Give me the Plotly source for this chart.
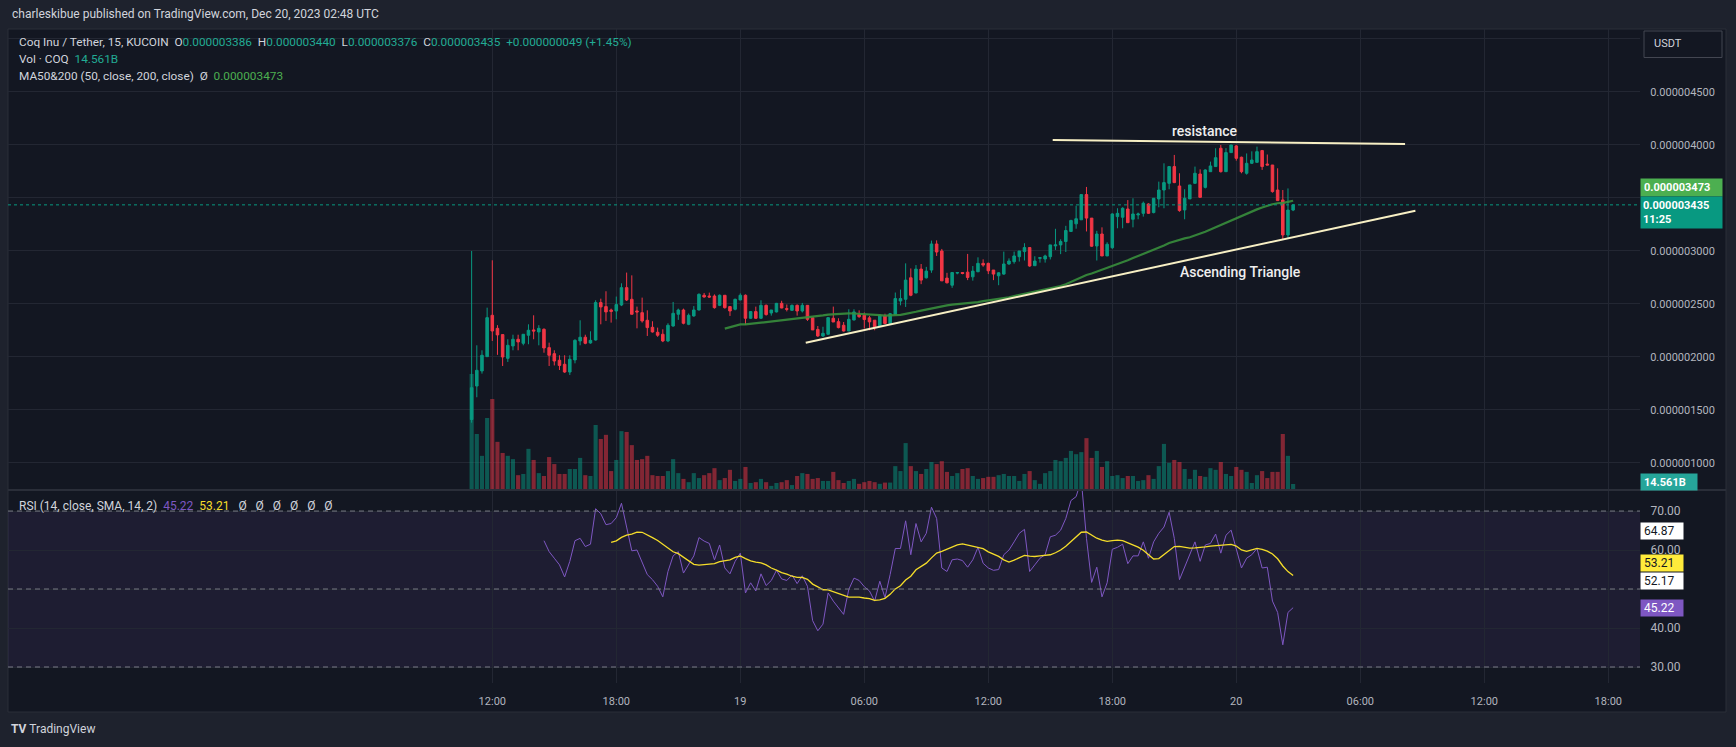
import pandas as pd
import plotly.graph_objects as go

# ---------------- data (prices in units of 1e-6 USDT) ----------------
start_time = "2023-12-18 11:00"
open_u = [1.41,1.726,1.868,2.003,2.393,2.27,2.211,1.987,2.104,2.167,
          2.129,2.205,2.255,2.236,2.261,2.088,2.031,1.969,1.931,1.858,
          1.972,2.151,2.186,2.132,2.16,2.513,2.475,2.443,2.434,2.49,
          2.654,2.544,2.434,2.418,2.346,2.28,2.233,2.214,2.151,2.292,
          2.403,2.443,2.308,2.387,2.443,2.582,2.575,2.575,2.487,2.582,
          2.475,2.45,2.538,2.582,2.365,2.428,2.365,2.487,2.415,2.425,
          2.506,2.456,2.44,2.487,2.434,2.487,2.37,2.26,2.198,2.214,
          2.365,2.333,2.299,2.245,2.349,2.40,2.394,2.369,2.347,2.293,
          2.386,2.316,2.402,2.528,2.544,2.747,2.604,2.829,2.747,2.82,
          3.066,3.0,2.744,2.677,2.791,2.797,2.80,2.756,2.804,2.883,
          2.883,2.82,2.766,2.782,2.877,2.899,2.946,2.994,3.032,2.861,
          2.93,2.924,2.946,3.048,3.057,3.089,3.184,3.256,3.294,3.532,
          3.31,3.047,3.16,2.953,3.031,3.324,3.318,3.396,3.299,3.340,
          3.355,3.443,3.362,3.491,3.575,3.638,3.796,3.613,3.387,3.491,
          3.638,3.726,3.6,3.748,3.796,3.969,3.748,3.928,3.991,3.884,
          3.733,3.827,3.836,3.947,3.82,3.811,3.575,3.481,3.151,3.386]
high_u = [3.00,2.11,2.063,2.465,2.912,2.30,2.211,2.167,2.21,2.21,
          2.214,2.308,2.393,2.30,2.27,2.135,2.063,2.016,2.016,2.016,
          2.167,2.346,2.21,2.242,2.535,2.55,2.62,2.456,2.57,2.695,
          2.796,2.77,2.475,2.56,2.44,2.337,2.277,2.261,2.318,2.519,
          2.456,2.456,2.41,2.48,2.60,2.604,2.607,2.59,2.59,2.582,
          2.475,2.55,2.60,2.59,2.428,2.475,2.535,2.495,2.443,2.51,
          2.53,2.495,2.495,2.495,2.51,2.49,2.37,2.292,2.285,2.371,
          2.475,2.365,2.33,2.45,2.45,2.44,2.42,2.388,2.347,2.40,
          2.408,2.415,2.608,2.636,2.883,2.835,2.867,2.877,2.85,3.098,
          3.10,3.019,2.794,2.797,2.80,2.80,2.972,2.858,2.94,2.921,
          2.89,2.82,2.80,2.994,2.93,2.994,3.0,3.073,3.032,2.95,
          2.937,2.965,3.057,3.209,3.11,3.237,3.294,3.427,3.532,3.604,
          3.31,3.19,3.223,3.082,3.355,3.403,3.412,3.48,3.497,3.362,
          3.466,3.45,3.497,3.654,3.827,3.796,3.906,3.733,3.582,3.623,
          3.796,3.77,3.77,3.843,3.969,4.0,3.97,4.0,4.0,3.89,
          3.92,3.94,3.984,3.953,3.91,3.811,3.78,3.575,3.59,3.440]
low_u = [1.38,1.62,1.843,2.00,2.151,2.02,1.915,1.953,2.063,2.063,
         2.11,2.12,2.167,2.11,2.04,1.915,1.92,1.877,1.85,1.83,
         1.94,2.11,2.12,2.125,2.155,2.308,2.34,2.324,2.355,2.48,
         2.528,2.40,2.27,2.324,2.198,2.23,2.19,2.14,2.14,2.286,
         2.35,2.308,2.30,2.38,2.44,2.56,2.56,2.456,2.48,2.456,
         2.387,2.44,2.535,2.302,2.36,2.36,2.36,2.39,2.39,2.42,
         2.46,2.43,2.435,2.39,2.42,2.34,2.255,2.19,2.19,2.21,
         2.33,2.27,2.24,2.245,2.345,2.37,2.268,2.252,2.252,2.284,
         2.313,2.313,2.40,2.487,2.472,2.573,2.60,2.687,2.74,2.794,
         2.953,2.718,2.693,2.652,2.78,2.78,2.725,2.72,2.80,2.851,
         2.782,2.725,2.677,2.775,2.87,2.88,2.90,2.91,2.851,2.858,
         2.89,2.89,2.92,3.01,2.97,2.99,3.184,3.21,3.294,3.184,
         3.04,2.91,2.953,2.953,3.02,3.214,3.214,3.267,3.223,3.299,
         3.324,3.35,3.355,3.412,3.403,3.582,3.64,3.37,3.299,3.49,
         3.635,3.506,3.59,3.748,3.796,3.74,3.748,3.928,3.852,3.733,
         3.72,3.82,3.836,3.765,3.811,3.55,3.475,3.11,3.12,3.376]
close_u = [1.71,1.874,2.016,2.371,2.245,2.208,2.0,2.11,2.167,2.142,
           2.214,2.252,2.245,2.27,2.085,2.016,1.962,1.92,1.858,1.978,
           2.157,2.186,2.129,2.157,2.513,2.472,2.425,2.43,2.494,2.654,
           2.538,2.403,2.425,2.34,2.277,2.236,2.205,2.151,2.299,2.412,
           2.443,2.318,2.393,2.443,2.591,2.566,2.566,2.465,2.582,2.465,
           2.434,2.544,2.582,2.365,2.428,2.365,2.487,2.40,2.443,2.506,
           2.462,2.45,2.487,2.434,2.487,2.355,2.255,2.198,2.223,2.371,
           2.33,2.277,2.245,2.355,2.425,2.38,2.353,2.331,2.284,2.394,
           2.316,2.408,2.551,2.551,2.725,2.582,2.829,2.725,2.81,3.066,
           2.99,2.718,2.70,2.797,2.797,2.788,2.75,2.81,2.883,2.867,
           2.813,2.782,2.794,2.877,2.905,2.953,3.0,3.032,2.858,2.905,
           2.937,2.953,3.057,3.057,3.089,3.193,3.288,3.304,3.532,3.31,
           3.045,3.16,2.953,3.063,3.349,3.355,3.403,3.267,3.349,3.349,
           3.45,3.355,3.497,3.575,3.645,3.796,3.645,3.381,3.497,3.623,
           3.733,3.506,3.764,3.802,3.88,3.748,3.928,4.0,3.874,3.748,
           3.827,3.858,3.937,3.796,3.811,3.56,3.475,3.151,3.386,3.435]
volume_b = [282,136,83,175,221,117,90,83,75,36,
            39,100,73,41,34,80,63,39,39,51,
            51,78,36,34,158,124,134,46,73,143,
            141,109,73,75,83,36,34,34,46,75,
            41,27,19,41,29,36,41,53,24,29,
            49,22,27,56,17,19,27,19,10,17,
            19,24,12,34,41,39,27,29,22,22,
            44,24,17,22,27,15,19,22,19,15,
            18,18,58,46,114,58,46,39,51,68,
            63,70,44,34,41,51,53,34,27,29,
            32,32,36,39,34,34,22,39,46,24,
            15,41,46,73,70,78,95,87,92,126,
            78,95,56,70,34,36,29,34,34,22,
            24,36,27,58,112,66,73,68,51,27,
            49,34,32,53,49,68,39,34,56,49,
            44,17,36,46,29,44,44,136,83,14.561]
rsi_first_index = 14
rsi_values = [62.4,59.6,57.9,56.2,53.1,57.1,62.4,63.0,60.9,61.5,
              70.6,69.3,66.5,66.8,68.3,72.0,65.9,59.8,60.0,56.8,
              53.7,52.4,50.7,48.0,54.5,58.5,59.6,54.1,56.2,58.5,
              63.2,62.3,61.7,57.5,61.3,55.4,53.9,57.1,59.2,49.0,
              51.6,49.5,53.9,50.9,52.2,54.8,52.6,52.2,53.6,51.4,
              53.4,50.7,41.9,39.3,41.0,49.0,46.9,45.2,43.5,49.9,
              52.8,52.2,50.6,49.5,46.9,52.0,47.8,53.7,60.4,60.4,
              67.5,58.8,66.8,62.1,64.3,71.0,68.1,55.4,54.5,57.5,
              57.7,57.3,55.6,57.5,60.7,56.6,55.4,54.8,55.0,58.8,
              60.0,62.1,64.3,65.3,54.5,56.2,57.9,58.8,63.4,63.8,
              65.1,68.1,72.7,73.7,78.0,63.0,51.7,55.6,48.0,51.6,
              60.2,60.7,61.5,56.5,58.5,58.5,62.1,57.9,62.1,64.3,
              65.9,69.7,63.0,52.4,55.8,58.8,62.1,57.1,61.3,61.7,
              64.1,59.2,63.8,65.1,60.4,55.4,57.9,58.8,60.4,55.4,
              55.6,46.9,44.0,35.7,44.0,45.22]
ma_label_value = 3.473
rsi_sma_label = 53.21
rsi_extra_labels = [64.87, 52.17]
countdown = "11:25"

tick_times = ["2023-12-18 12:00", "2023-12-18 18:00", "2023-12-19 00:00", "2023-12-19 06:00",
              "2023-12-19 12:00", "2023-12-19 18:00", "2023-12-20 00:00", "2023-12-20 06:00",
              "2023-12-20 12:00", "2023-12-20 18:00"]
tick_text = ["12:00", "18:00", "19", "06:00", "12:00", "18:00", "20", "06:00", "12:00", "18:00"]
price_ticks = [1.0, 1.5, 2.0, 2.5, 3.0, 3.5, 4.0, 4.5, 5.0]
price_ticks_hidden = [3.5, 5.0]        # covered by the price / currency boxes
rsi_ticks = [30, 40, 50, 60, 70]
rsi_ticks_hidden = [50]                # covered by the value boxes

resistance_line = [("2023-12-19 15:07", 4.047), ("2023-12-20 08:10", 4.009)]
support_line = [("2023-12-19 03:10", 2.134), ("2023-12-20 08:40", 3.38)]
text_labels = [("resistance", "2023-12-19 22:30", 4.132), ("Ascending Triangle", "2023-12-20 00:12", 2.802)]

# ---------------- derived ----------------
times = pd.date_range(start_time, periods=len(close_u), freq="15min")
ma50 = pd.Series(close_u).rolling(50).mean()
rsi_times = times[rsi_first_index:]
rsi_sma = pd.Series(rsi_values).rolling(14).mean()

UP, DN = "#089981", "#f23645"
vol_colors = ["rgba(8,153,129,0.5)" if c >= o else "rgba(242,54,69,0.5)" for o, c in zip(open_u, close_u)]

W, H = 1736, 747
def px(v): return v / W
def py(v): return 1 - v / H

FONT = "Roboto"
GRID = "#232733"
TXT = "#d1d4dc"

fig = go.Figure()
fig.add_trace(go.Bar(x=times, y=volume_b, marker=dict(color=vol_colors, line=dict(width=0)),
                     width=15 * 60 * 1000 * 0.8, xaxis="x", yaxis="y", showlegend=False))
fig.add_trace(go.Candlestick(x=times, open=open_u, high=high_u, low=low_u, close=close_u,
                             increasing=dict(line=dict(color=UP, width=1), fillcolor=UP),
                             decreasing=dict(line=dict(color=DN, width=1), fillcolor=DN),
                             whiskerwidth=0, xaxis="x", yaxis="y2", showlegend=False))
fig.add_trace(go.Scatter(x=times, y=ma50, mode="lines", line=dict(color="rgba(56,142,60,0.9)", width=2.2),
                         xaxis="x", yaxis="y2", showlegend=False))
fig.add_trace(go.Scatter(x=rsi_times, y=rsi_values, mode="lines", line=dict(color="#7e57c2", width=1),
                         xaxis="x2", yaxis="y3", showlegend=False))
fig.add_trace(go.Scatter(x=rsi_times, y=rsi_sma, mode="lines", line=dict(color="#f5dd2a", width=1.3),
                         xaxis="x2", yaxis="y3", showlegend=False))

# pixel layout
x_left, x_right = 8, 1640
t12 = pd.Timestamp("2023-12-18 12:00")
px_per_6h, x12 = 124.0, 492.3
xr = [str(t12 - pd.Timedelta(hours=6 * (x12 - x_left) / px_per_6h)),
      str(t12 + pd.Timedelta(hours=6 * (x_right - x12) / px_per_6h))]
dom_x = [px(x_left), px(x_right)]
price_dom = [py(490), py(29)]
rsi_dom = [py(683), py(490)]

axfont = dict(family=FONT, size=11, color="#b2b5be")
common_x = dict(type="date", range=xr, domain=dom_x, tickmode="array", tickvals=tick_times,
                ticktext=tick_text, showgrid=True, gridcolor=GRID, gridwidth=1, zeroline=False,
                showline=False, rangeslider=dict(visible=False), fixedrange=True)

fig.update_layout(
    width=W, height=H, margin=dict(l=0, r=0, t=0, b=0),
    paper_bgcolor="#1e222d", plot_bgcolor="rgba(0,0,0,0)",
    xaxis=dict(**common_x, anchor="y", showticklabels=False),
    xaxis2=dict(**common_x, anchor="y3", matches="x", showticklabels=True, tickfont=axfont,
                ticks="outside", ticklen=8, tickcolor="rgba(0,0,0,0)"),
    yaxis=dict(domain=price_dom, range=[0, 1120], showgrid=False, showticklabels=False,
               zeroline=False, anchor="x"),
    yaxis2=dict(domain=price_dom, range=[0.745, 5.094], overlaying="y", side="right", anchor="x",
                tickmode="array", tickvals=price_ticks,
                ticktext=["" if v in price_ticks_hidden else "%.9f" % (v * 1e-6) for v in price_ticks],
                showgrid=True, gridcolor=GRID, zeroline=False, tickfont=axfont,
                ticks="outside", ticklen=7, tickcolor="rgba(0,0,0,0)"),
    yaxis3=dict(domain=rsi_dom, range=[25.9, 75.4], side="right", anchor="x2",
                tickmode="array", tickvals=rsi_ticks,
                ticktext=["" if v in rsi_ticks_hidden else "%.2f" % v for v in rsi_ticks],
                showgrid=True, gridcolor=GRID, zeroline=False, tickfont=dict(family=FONT, size=12, color="#b2b5be"),
                ticks="outside", ticklen=7, tickcolor="rgba(0,0,0,0)"),
    showlegend=False,
)

shapes = [
    dict(type="rect", xref="paper", yref="paper", x0=px(8), x1=px(1726), y0=py(712), y1=py(29),
         fillcolor="#131722", line=dict(color="#2a2e39", width=1), layer="below"),
    dict(type="line", xref="paper", yref="paper", x0=px(8), x1=px(1726), y0=py(490), y1=py(490),
         line=dict(color="#2a2e39", width=2), layer="above"),
    dict(type="rect", xref="x2 domain", yref="y3", x0=0, x1=1, y0=30, y1=70,
         fillcolor="rgba(126,87,194,0.1)", line=dict(width=0), layer="below"),
]
for lvl in (70, 50, 30):
    shapes.append(dict(type="line", xref="x2 domain", yref="y3", x0=0, x1=1, y0=lvl, y1=lvl,
                       line=dict(color="#787b86", width=1, dash="5px,4px"), layer="above"))
shapes.append(dict(type="line", xref="x domain", yref="y2", x0=0, x1=1, y0=close_u[-1], y1=close_u[-1],
                   line=dict(color=UP, width=1, dash="dot"), layer="above"))
for ln in (resistance_line, support_line):
    shapes.append(dict(type="line", xref="x", yref="y2", x0=ln[0][0], y0=ln[0][1], x1=ln[1][0], y1=ln[1][1],
                       line=dict(color="#f7efc4", width=2), layer="above"))
shapes.append(dict(type="rect", xref="paper", yref="paper", x0=px(1644), x1=px(1722), y0=py(57.5), y1=py(31),
                   fillcolor="#131722", line=dict(color="#434651", width=1), layer="above"))
fig.update_layout(shapes=shapes)

ann = []
def A(**k):
    base = dict(showarrow=False)
    base.update(k)
    ann.append(base)

NB = "\u00a0"
teal = "#22ab94"
def span(c, t): return '<span style="color:%s">%s</span>' % (c, t)
fmt = lambda v: "%.9f" % (v * 1e-6)
chg = close_u[-1] - close_u[-2]
pct = chg / close_u[-2] * 100

A(text="charleskibue published on TradingView.com, Dec 20, 2023 02:48 UTC", xref="paper", yref="paper",
  x=px(10), y=py(14), xanchor="left", yanchor="middle", font=dict(family=FONT, size=12, color=TXT))
line2 = ("Coq Inu / Tether, 15, KUCOIN" + NB * 2 + "O" + span(teal, fmt(open_u[-1])) + NB * 2 +
         "H" + span(teal, fmt(high_u[-1])) + NB * 2 + "L" + span(teal, fmt(low_u[-1])) + NB * 2 +
         "C" + span(teal, fmt(close_u[-1])) + NB * 2 + span(teal, "+%s (+%.2f%%)" % (fmt(chg), pct)))
A(text=line2, xref="paper", yref="paper", x=px(17), y=py(42), xanchor="left", yanchor="middle",
  font=dict(family=FONT, size=11.8, color=TXT))
A(text="Vol · COQ" + NB * 2 + span(teal, "%.3fB" % volume_b[-1]), xref="paper", yref="paper",
  x=px(17), y=py(59), xanchor="left", yanchor="middle", font=dict(family=FONT, size=11.8, color=TXT))
A(text="MA50&amp;200 (50, close, 200, close)" + NB * 2 + "Ø" + NB * 2 + span("#4caf50", fmt(ma_label_value)),
  xref="paper", yref="paper", x=px(17), y=py(76), xanchor="left", yanchor="middle",
  font=dict(family=FONT, size=11.8, color=TXT))
A(text="RSI (14, close, SMA, 14, 2)" + NB * 2 + span("#7e57c2", "%.2f" % rsi_values[-1]) + NB * 2 +
  span("#f5dd2a", "%.2f" % rsi_sma_label) + NB * 3 + (NB * 3).join(["Ø"] * 6),
  xref="paper", yref="paper", x=px(17), y=py(506), xanchor="left", yanchor="middle",
  font=dict(family=FONT, size=12, color=TXT))

# drawing labels
for t, tx, pv in text_labels:
    A(text=t, xref="x", yref="y2", x=tx, y=pv, xanchor="center", yanchor="middle",
      font=dict(family=FONT, size=14, color="#eeeeee", weight=500))

# right scale labels
A(text="USDT", xref="paper", yref="paper", x=px(1652), y=py(44), xanchor="left", yanchor="middle",
  font=dict(family=FONT, size=11, color="#d1d4dc"))
A(text="<b>%s</b>" % fmt(ma_label_value), xref="paper", yref="y2", x=px(1640), y=ma50.iloc[-1],
  xanchor="left", yanchor="middle", yshift=13.5, bgcolor="#4caf50", borderpad=3, width=75, height=11,
  align="left", font=dict(family=FONT, size=11, color="#ffffff"))
A(text="<b>%s</b><br><b>%s</b>" % (fmt(close_u[-1]), countdown), xref="paper", yref="y2", x=px(1640),
  y=close_u[-1], xanchor="left", yanchor="top", yshift=9, bgcolor=UP, borderpad=2, width=77, height=27,
  align="left", valign="middle", font=dict(family=FONT, size=11, color="#ffffff"))
A(text="<b>%.3fB</b>" % volume_b[-1], xref="paper", yref="y", x=px(1640), y=volume_b[-1],
  xanchor="left", yanchor="middle", yshift=2, bgcolor="#26a69a", borderpad=3, width=50, height=10,
  align="left", font=dict(family=FONT, size=11, color="#ffffff"))
rsi_boxes = [(rsi_extra_labels[0], 0, "#ffffff", "#131722"),
             (rsi_sma_label, 13.5, "#ffeb3b", "#131722"),
             (rsi_extra_labels[1], 0, "#ffffff", "#131722"),
             (rsi_values[-1], 0, "#7e57c2", "#ffffff")]
for v, sh, bg, fc in rsi_boxes:
    A(text="%.2f" % v, xref="paper", yref="y3", x=px(1640), y=v, xanchor="left", yanchor="middle",
      yshift=sh, bgcolor=bg, borderpad=3, width=36, height=10, align="left",
      font=dict(family=FONT, size=12, color=fc))

A(text="<b>TV</b>" + NB + "TradingView", xref="paper", yref="paper", x=px(9), y=py(729),
  xanchor="left", yanchor="middle", font=dict(family=FONT, size=12, color="#d1d4dc"))

fig.update_layout(annotations=ann)
fig.write_html("out.html")
